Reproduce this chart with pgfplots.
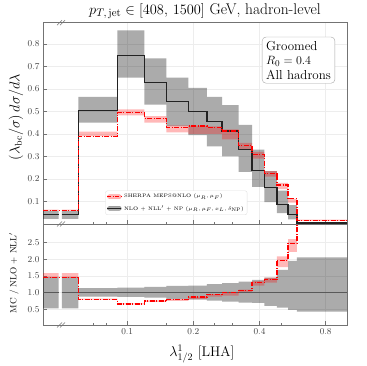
\documentclass[border=0pt]{standalone}
\usepackage{pgfplots}
\pgfplotsset{compat=1.18}
\usepackage{pgfplotstable}
\usetikzlibrary{pgfplots.fillbetween}

\definecolor{spine}{gray}{0.45}
\definecolor{ticklab}{gray}{0.25}
\definecolor{blk}{HTML}{222222}

% bins: lower edge, value, band; last row repeats the last bin at the upper edge
\pgfplotstableread{
x      blk   blo   bhi   red   rlo   rhi
0.0414 0.041 0.023 0.058 0.059 0.059 0.064
0.0488 0.041 0.023 0.058 0.059 0.059 0.064
}\mainA
\pgfplotstableread{
x      blk   blo   bhi   red   rlo   rhi
0.0505 0.041 0.023 0.058 0.059 0.059 0.064
0.0600 0.504 0.450 0.565 0.390 0.390 0.410
0.0903 0.748 0.650 0.860 0.495 0.482 0.509
0.1198 0.627 0.530 0.735 0.470 0.450 0.479
0.1509 0.544 0.435 0.650 0.430 0.407 0.438
0.1900 0.500 0.395 0.605 0.435 0.400 0.437
0.2306 0.454 0.345 0.565 0.430 0.400 0.433
0.2700 0.413 0.300 0.528 0.413 0.376 0.420
0.3210 0.332 0.232 0.440 0.350 0.330 0.360
0.3700 0.239 0.165 0.330 0.310 0.290 0.320
0.4210 0.162 0.097 0.235 0.224 0.210 0.235
0.4800 0.088 0.048 0.148 0.173 0.155 0.183
0.5390 0.043 0.020 0.084 0.112 0.095 0.112
0.5920 0.005 0.002 0.008 0.017 0.014 0.019
1.0000 0.005 0.002 0.008 0.017 0.014 0.019
}\mainB
\pgfplotstableread{
x      glo  ghi  red  rlo   rhi
0.0414 0.53 1.47 1.45 1.45  1.58
0.0488 0.53 1.47 1.45 1.45  1.58
}\ratA
\pgfplotstableread{
x      glo  ghi  red  rlo   rhi
0.0505 0.53 1.47 1.45 1.45  1.58
0.0600 0.88 1.13 0.79 0.79  0.82
0.0903 0.87 1.15 0.66 0.645 0.68
0.1198 0.85 1.17 0.75 0.72  0.765
0.1509 0.80 1.20 0.79 0.75  0.805
0.1900 0.79 1.21 0.87 0.80  0.875
0.2306 0.76 1.25 0.95 0.88  0.955
0.2700 0.73 1.28 1.00 0.91  1.02
0.3210 0.70 1.33 1.05 0.99  1.085
0.3700 0.69 1.38 1.30 1.21  1.34
0.4210 0.60 1.45 1.38 1.30  1.45
0.4800 0.55 1.68 1.97 1.76  2.08
0.5390 0.48 1.95 2.47 2.22  2.60
0.5920 0.43 2.05 6.00 6.00  6.00
1.0000 0.43 2.05 6.00 6.00  6.00
}\ratB

\newcommand\bands[5]{% table, lo column, hi column, fill colour, opacity
  \addplot[draw=none, const plot, no marks, forget plot, name path=lopath] table[x=x, y=#2] {#1};
  \addplot[draw=none, const plot, no marks, forget plot, name path=hipath] table[x=x, y=#3] {#1};
  \addplot[fill=#4, fill opacity=#5, draw=none, forget plot] fill between[of=hipath and lopath];
}

\begin{document}
\begin{tikzpicture}

\begin{axis}[
  scale only axis, width=304pt, height=201.3pt,
  at={(43pt,142pt)}, anchor=south west,
  xmode=log, xmin=0.0414, xmax=1.0,
  xtick={0.1,0.2,0.4,0.8}, xticklabels={},
  minor xtick={0.07,0.08,0.15,0.25,0.3,0.5},
  ymin=0, ymax=0.894, ytick={0.1,0.2,0.3,0.4,0.5,0.6,0.7,0.8},
  tick align=inside, xtick pos=bottom, ytick pos=left,
  axis line style={spine, line width=0.7pt},
  major tick length=4pt, minor tick length=2pt,
  tick style={spine, line width=0.6pt},
  grid=major, major grid style={black!7, line width=0.5pt},
  ticklabel style={font=\fontsize{9}{10}\selectfont, text=ticklab},
  yticklabel style={/pgf/number format/fixed, /pgf/number format/fixed zerofill, /pgf/number format/precision=1},
  legend style={at={(0.672,0.045)}, anchor=south east,
    font=\fontsize{5}{6}\selectfont, draw=black!12, rounded corners=2pt,
    inner sep=1.2pt, row sep=2pt,
    /tikz/every even column/.append style={column sep=2pt}},
  legend cell align=left,
]
\bands{\mainA}{blo}{bhi}{black}{0.33}
\bands{\mainB}{blo}{bhi}{black}{0.33}
\bands{\mainA}{rlo}{rhi}{red}{0.28}
\bands{\mainB}{rlo}{rhi}{red}{0.28}
\addplot[blk, line width=1.3pt, const plot, no marks, forget plot] table[x=x, y=blk] {\mainA};
\addplot[blk, line width=1.3pt, const plot, no marks, forget plot] table[x=x, y=blk] {\mainB};
\addplot[red, line width=1.2pt, dash pattern=on 5pt off 1.5pt on 1pt off 1.5pt, const plot, no marks, forget plot] table[x=x, y=red] {\mainA};
\addplot[red, line width=1.2pt, dash pattern=on 5pt off 1.5pt on 1pt off 1.5pt, const plot, no marks, forget plot] table[x=x, y=red] {\mainB};

\addlegendimage{legend image code/.code={
  \fill[red, opacity=0.28] (0pt,-2pt) rectangle (14pt,2pt);
  \draw[red, line width=1.2pt, dash pattern=on 4pt off 1.5pt on 1pt off 1.5pt] (0pt,0pt) -- (14pt,0pt);}}
\addlegendentry{SHERPA MEPS@NLO $(\mu_R,\mu_F)$}
\addlegendimage{legend image code/.code={
  \fill[black, opacity=0.33] (0pt,-2pt) rectangle (14pt,2pt);
  \draw[blk, line width=1.3pt] (0pt,0pt) -- (14pt,0pt);}}
\addlegendentry{NLO + NLL$'$ + NP $(\mu_R,\mu_F,x_L,\delta_{\mathrm{NP}})$}

\node[anchor=north east, draw=black!35, rounded corners=4pt, align=left,
  font=\fontsize{13}{14.5}\selectfont, inner sep=4pt, fill=white]
  at (rel axis cs:0.961,0.930) {Groomed\\$R_0 = 0.4$\\All hadrons};
\end{axis}

\begin{axis}[
  scale only axis, width=304pt, height=101pt,
  at={(43pt,41pt)}, anchor=south west,
  xmode=log, xmin=0.0414, xmax=1.0,
  xtick={0.1,0.2,0.4,0.8}, xticklabels={0.1,0.2,0.4,0.8},
  minor xtick={0.07,0.08,0.15,0.25,0.3,0.5},
  ymin=0.03, ymax=3.05, ytick={0.5,1.0,1.5,2.0,2.5},
  tick align=inside, xtick pos=bottom, ytick pos=left,
  axis line style={spine, line width=0.7pt},
  major tick length=4pt, minor tick length=2pt,
  tick style={spine, line width=0.6pt},
  grid=major, major grid style={black!7, line width=0.5pt},
  ticklabel style={font=\fontsize{9}{10}\selectfont, text=ticklab},
  yticklabel style={/pgf/number format/fixed, /pgf/number format/fixed zerofill, /pgf/number format/precision=1},
]
\bands{\ratA}{glo}{ghi}{black}{0.33}
\bands{\ratB}{glo}{ghi}{black}{0.33}
\bands{\ratA}{rlo}{rhi}{red}{0.28}
\bands{\ratB}{rlo}{rhi}{red}{0.28}
\addplot[black!65, line width=1.5pt, no marks, forget plot] coordinates {(0.0414,1) (0.0488,1)};
\addplot[black!65, line width=1.5pt, no marks, forget plot] coordinates {(0.0505,1) (1.0,1)};
\addplot[red, line width=1.2pt, dash pattern=on 5pt off 1.5pt on 1pt off 1.5pt, const plot, no marks, forget plot] table[x=x, y=red] {\ratA};
\addplot[red, line width=1.2pt, dash pattern=on 5pt off 1.5pt on 1pt off 1.5pt, const plot, no marks, forget plot] table[x=x, y=red] {\ratB};
\end{axis}

% axis break marks
\foreach \yy in {41,142,343.3}{
  \draw[spine, line width=0.6pt] (57pt,\yy pt-2.5pt) -- ++(5pt,5pt);
  \draw[spine, line width=0.6pt] (60pt,\yy pt-2.5pt) -- ++(5pt,5pt);
}

\node[font=\fontsize{15.5}{17}\selectfont] at (205pt,355pt)
  {$p_{T,\,\mathrm{jet}} \in [408,\,1500]$ GeV, hadron-level};
\node[rotate=90, font=\fontsize{14}{16}\selectfont] at (16pt,249pt)
  {$(\lambda_{\mathrm{bc}}/\sigma)\, d\sigma/d\lambda$};
\node[rotate=90, font=\fontsize{9}{10}\selectfont] at (14pt,93pt)
  {MC / NLO + NLL$'$};
\node[font=\fontsize{14}{16}\selectfont, inner sep=0pt] at (202pt,12pt)
  {$\lambda^1_{1/2}$ [LHA]};

\pgfresetboundingbox
\path[use as bounding box] (0,0) rectangle (366pt,366pt);
\end{tikzpicture}
\end{document}
